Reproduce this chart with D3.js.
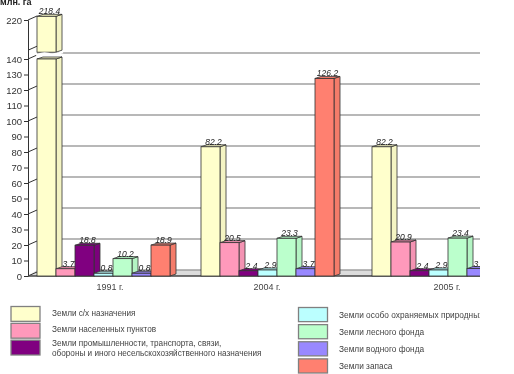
<!DOCTYPE html>
<html>
<head>
<meta charset="utf-8">
<script src="https://cdn.jsdelivr.net/npm/d3@7"></script>
<style>
html, body { margin: 0; padding: 0; background: #fff; }
svg { display: block; font-family: "Liberation Sans", Arial, sans-serif; }
</style>
</head>
<body>
<div id="chart"></div>
<script>
var years = ["1991 г.", "2004 г.", "2005 г."];
var series = [
    "Земли с/х назначения",
    "Земли населенных пунктов",
    "Земли промышленности",
    "Земли особо охраняемых природных",
    "Земли лесного фонда",
    "Земли водного фонда",
    "Земли запаса"
];
var values1991 = [218.4, 3.7, 18.8, 0.8, 10.2, 0.8, 18.9];
var values2004 = [82.2, 20.5, 2.4, 2.9, 23.3, 3.7, 126.2];
var values2005 = [82.2, 20.9, 2.4, 2.9, 23.4, 3.8];
var colors = ["#ffffcc", "#ff99bb", "#800080", "#bbffff", "#bbffcc", "#9988ff", "#ff8070"];
var lowerTicks = d3.range(0, 150, 10);
var gridTicks = d3.range(0, 160, 20);
var upperTicks = [220];
var legendLeft = [
    [["Земли с/х назначения"], 0],
    [["Земли населенных пунктов"], 1],
    [["Земли промышленности, транспорта, связи,", "обороны и иного несельскохозяйственного назначения"], 2]
];
var legendRight = [
    ["Земли особо охраняемых природных территорий", 3],
    ["Земли лесного фонда", 4],
    ["Земли водного фонда", 5],
    ["Земли запаса", 6]
];

var width = 514, height = 374;
var right = 480, depthX = 9, depthY = 6, barDX = 6, barDY = 2;

var svg = d3.select("#chart").append("svg")
    .attr("width", width)
    .attr("height", height);

var filter = svg.append("defs").append("filter").attr("id", "soft");
filter.append("feGaussianBlur").attr("stdDeviation", 0.4);
svg.select("defs").append("clipPath").attr("id", "cut")
    .append("rect").attr("width", right).attr("height", height);

var root = svg.append("g").attr("clip-path", "url(#cut)").append("g").attr("filter", "url(#soft)");

// broken axis: 0-140 and then a squeezed part up to 220
var y = d3.scaleLinear().domain([0, 140, 220]).range([276, 59, 20]);
var yBar = d3.scaleLinear().domain([0, 140, 220]).range([274.5, 57, 15.5]);
var groupX = d3.scaleOrdinal().domain(years).range([37, 201, 372]);
var labelX = d3.scaleOrdinal().domain(years).range([110, 267, 447]);
var inner = d3.scaleBand().domain(series).range([0, 133]);

// floor
var base = y(0);
root.append("path")
    .attr("d", d3.line()([[28, base], [28 + depthX, base - depthY], [right, base - depthY], [right, base]]))
    .attr("fill", "#dcdcdc");

// grid on the back wall
root.selectAll(".grid").data(gridTicks).enter().append("line")
    .attr("class", "grid")
    .attr("x1", 28 + depthX).attr("x2", right)
    .attr("y1", function (d) { return y(d) - depthY; })
    .attr("y2", function (d) { return y(d) - depthY; })
    .attr("stroke", "#a0a0a0")
    .attr("stroke-width", 1.4);

// diagonal wall ticks
root.selectAll(".wall").data(gridTicks.concat([158, 220])).enter().append("line")
    .attr("class", "wall")
    .attr("x1", 28).attr("x2", 28 + depthX)
    .attr("y1", function (d) { return y(d); })
    .attr("y2", function (d) { return y(d) - depthY + 2; })
    .attr("stroke", "#333");

root.append("g")
    .attr("transform", "translate(28,0)")
    .call(d3.axisLeft(y).tickValues(lowerTicks).tickSize(4).tickPadding(2).tickSizeOuter(0));
root.append("g")
    .attr("transform", "translate(28,0)")
    .call(d3.axisLeft(y.copy().domain([158, 220]).range([y(158), y(220)])).tickValues(upperTicks).tickSize(4).tickPadding(2).tickSizeOuter(0));
root.selectAll(".domain").attr("stroke", "#333");
root.selectAll(".tick line").attr("stroke", "#333");
root.selectAll(".tick text")
    .attr("font-family", "Liberation Sans, Arial, sans-serif")
    .attr("font-size", 9.5)
    .attr("fill", "#333");

root.append("line")
    .attr("x1", 28).attr("x2", right)
    .attr("y1", base).attr("y2", base)
    .attr("stroke", "#444")
    .attr("stroke-width", 1.4);

function drawBar(g, x, w, top, bottom, color) {
    var dark = d3.color(color).darker(0.12);
    g.append("path")
        .attr("d", "M" + (x + w) + "," + top + "l" + barDX + "," + (-barDY) + "V" + (bottom - barDY) + "l" + (-barDX) + "," + barDY + "Z")
        .attr("fill", dark).attr("stroke", "#333").attr("stroke-width", 0.8);
    g.append("path")
        .attr("d", "M" + x + "," + top + "l" + barDX + "," + (-barDY) + "H" + (x + w + barDX) + "l" + (-barDX) + "," + barDY + "Z")
        .attr("fill", dark).attr("stroke", "#333").attr("stroke-width", 0.8);
    g.append("rect")
        .attr("x", x).attr("y", top)
        .attr("width", w).attr("height", bottom - top)
        .attr("fill", color).attr("stroke", "#333").attr("stroke-width", 0.8);
}

var rows = [values1991, values2004, values2005];
rows.forEach(function (vals, i) {
    var g = root.append("g");
    vals.forEach(function (v, j) {
        var x = groupX(years[i]) + inner(series[j]);
        var w = inner.bandwidth();
        if (v > 140) {
            // tall bar is cut in two around the axis break
            drawBar(g, x, w, yBar(v), y(154), colors[j]);
            drawBar(g, x, w, y(140), base, colors[j]);
            g.append("path")
                .attr("d", d3.line().curve(d3.curveBasis)([[x - 1, y(154) + 3], [x + w * 0.4, y(154)], [x + w * 0.8, y(154) + 3], [x + w + barDX + 1, y(154)]]))
                .attr("fill", "none").attr("stroke", "#fff").attr("stroke-width", 2);
        } else {
            drawBar(g, x, w, yBar(v), base, colors[j]);
        }
    });
    vals.forEach(function (v, j) {
        g.append("text")
            .attr("x", groupX(years[i]) + inner(series[j]) + inner.bandwidth() / 2 + 3)
            .attr("y", yBar(v) - 2)
            .attr("text-anchor", "middle")
            .attr("font-size", 8.5)
            .attr("font-style", "italic")
            .attr("fill", "#222")
            .text(v.toFixed(1));
    });
    root.append("text")
        .attr("x", labelX(years[i]))
        .attr("y", 290)
        .attr("text-anchor", "middle")
        .attr("font-size", 9)
        .attr("fill", "#444")
        .text(years[i]);
});

root.append("text")
    .attr("x", 0).attr("y", 5)
    .attr("font-size", 9)
    .attr("font-weight", "bold")
    .attr("fill", "#222")
    .text("млн. га");

// legend
var legendLeftY = d3.scaleBand().domain([0, 1, 2]).range([306.5, 357]);
var legendRightY = d3.scaleBand().domain([0, 1, 2, 3]).range([307.5, 376]);

legendLeft.forEach(function (d, i) {
    root.append("rect")
        .attr("x", 11).attr("y", legendLeftY(i))
        .attr("width", 29).attr("height", legendLeftY.bandwidth() - 2)
        .attr("fill", colors[d[1]])
        .attr("stroke", "#808080")
        .attr("stroke-width", 1.3);
    d[0].forEach(function (t, k) {
        root.append("text")
            .attr("x", 52)
            .attr("y", d[0].length > 1 ? legendLeftY(i) + 6 + k * 10 : legendLeftY(i) + 9)
            .attr("font-size", 8.2)
            .attr("fill", "#444")
            .text(t);
    });
});

legendRight.forEach(function (d, i) {
    root.append("rect")
        .attr("x", 298.5).attr("y", legendRightY(i))
        .attr("width", 29).attr("height", legendRightY.bandwidth() - 3)
        .attr("fill", colors[d[1]])
        .attr("stroke", "#808080")
        .attr("stroke-width", 1.3);
    root.append("text")
        .attr("x", 339)
        .attr("y", legendRightY(i) + 10)
        .attr("font-size", 8.3)
        .attr("fill", "#444")
        .text(d[0]);
});
</script>
</body>
</html>
